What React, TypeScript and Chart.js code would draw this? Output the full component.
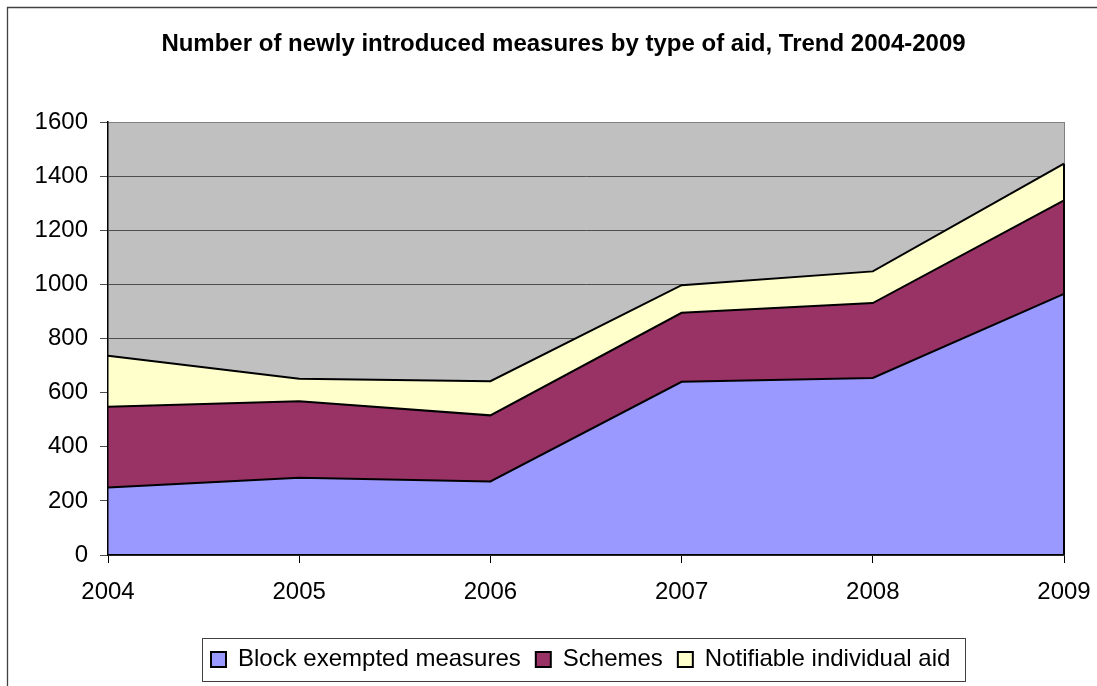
import React, { useEffect, useRef } from 'react';
import { Chart, registerables } from 'chart.js';

Chart.register(...registerables);

const TITLE = 'Number of newly introduced measures by type of aid, Trend 2004-2009';
const YEARS = ['2004', '2005', '2006', '2007', '2008', '2009'];
const BLOCK_EXEMPTED = [249, 285, 272, 640, 654, 965];
const SCHEMES = [299, 283, 244, 255, 277, 345];
const NOTIFIABLE = [188, 83, 126, 102, 117, 136];
const SERIES_LABELS = ['Block exempted measures', 'Schemes', 'Notifiable individual aid'];
const SERIES_COLORS = ['#9999FF', '#993366', '#FFFFCC'];
const Y_MIN = 0;
const Y_MAX = 1600;
const Y_STEP = 200;

const FONT = "'Liberation Sans', Arial, sans-serif";
const W = 1097;
const H = 686;

const decorPlugin = {
  id: 'decor',
  beforeDraw(chart: any) {
    const { ctx, chartArea: a } = chart;
    ctx.save();
    ctx.fillStyle = '#ffffff';
    ctx.fillRect(0, 0, chart.width, chart.height);
    ctx.strokeStyle = '#404040';
    ctx.lineWidth = 1.3;
    ctx.beginPath();
    ctx.moveTo(7.5, chart.height);
    ctx.lineTo(7.5, 7.5);
    ctx.lineTo(chart.width, 7.5);
    ctx.stroke();
    ctx.fillStyle = '#C0C0C0';
    ctx.fillRect(a.left, a.top, a.right - a.left, a.bottom - a.top);
    ctx.restore();
  },
  afterLayout(chart: any) {
    const t = chart.titleBlock;
    if (t) {
      const dx = 563.5 - (t.left + t.right) / 2;
      t.left += dx;
      t.right += dx;
    }
    const l = chart.legend;
    if (l) {
      l.left = 196;
    }
  },
  afterDatasetsDraw(chart: any) {
    const { ctx } = chart;
    const xs = chart.scales.x;
    const ys = chart.scales.y;
    const last = YEARS.length - 1;
    const total = BLOCK_EXEMPTED[last] + SCHEMES[last] + NOTIFIABLE[last];
    const x = xs.getPixelForValue(last);
    ctx.save();
    ctx.strokeStyle = '#000';
    ctx.lineWidth = 2;
    ctx.beginPath();
    ctx.moveTo(x, ys.getPixelForValue(0));
    ctx.lineTo(x, ys.getPixelForValue(total));
    ctx.stroke();
    ctx.restore();
  },
  afterDraw(chart: any) {
    const l = chart.legend;
    if (!l || !l.legendHitBoxes || !l.legendHitBoxes.length) return;
    const hb = l.legendHitBoxes;
    const first = hb[0];
    const lastHb = hb[hb.length - 1];
    const { ctx } = chart;
    ctx.save();
    ctx.strokeStyle = '#404040';
    ctx.lineWidth = 1;
    const x0 = Math.round(first.left - 9) + 0.5;
    const x1 = Math.round(lastHb.left + lastHb.width + 15) + 0.5;
    const y0 = Math.round(l.top + 5) + 0.5;
    const y1 = Math.round(l.bottom) - 0.5;
    ctx.strokeRect(x0, y0, x1 - x0, y1 - y0);
    ctx.restore();
  },
};

export default function App() {
  const ref = useRef<HTMLCanvasElement | null>(null);

  useEffect(() => {
    if (!ref.current) return;
    const seriesData = [BLOCK_EXEMPTED, SCHEMES, NOTIFIABLE];
    const chart = new Chart(ref.current, {
      type: 'line',
      data: {
        labels: YEARS,
        datasets: seriesData.map((d, i) => ({
          label: SERIES_LABELS[i],
          data: d,
          backgroundColor: SERIES_COLORS[i],
          borderColor: '#000000',
          borderWidth: 2,
          fill: i === 0 ? 'origin' : '-1',
          pointRadius: 0,
          pointHoverRadius: 0,
          tension: 0,
        })),
      },
      options: {
        responsive: false,
        animation: false,
        events: [],
        layout: { padding: { left: 0, right: 33, top: 0, bottom: 4.5 } },
        plugins: {
          title: {
            display: true,
            text: TITLE,
            color: '#000',
            font: { family: FONT, size: 24, weight: 'bold', lineHeight: 1.2 },
            padding: { top: 29.6, bottom: 63.6 },
          },
          legend: {
            display: true,
            position: 'bottom',
            align: 'start',
            labels: {
              color: '#000',
              font: { family: FONT, size: 24 },
              boxWidth: 15,
              boxHeight: 15,
              padding: 15,
            },
          },
          tooltip: { enabled: false },
        },
        scales: {
          x: {
            ticks: {
              color: '#000',
              font: { family: FONT, size: 24 },
              padding: 14.6,
              maxRotation: 0,
              autoSkip: false,
            },
            grid: {
              color: (c: any) => (c.index === YEARS.length - 1 ? '#808080' : 'rgba(0,0,0,0)'),
              tickColor: '#000',
              tickLength: 8,
            },
            border: { color: '#000', width: 1.5, z: 1 },
            afterFit: (s: any) => {
              s.height = 77.5;
              s.paddingLeft = 0;
              s.paddingRight = 0;
            },
          },
          y: {
            stacked: true,
            min: Y_MIN,
            max: Y_MAX,
            ticks: {
              stepSize: Y_STEP,
              color: '#000',
              font: { family: FONT, size: 24 },
              padding: 12,
              callback: (v: any) => String(v),
            },
            grid: {
              color: (c: any) => (c.tick && c.tick.value === Y_MAX ? '#808080' : '#4d4d4d'),
              tickColor: '#4d4d4d',
              tickLength: 8,
              lineWidth: 1,
            },
            border: { color: '#000', width: 1.5, z: 1 },
            afterFit: (s: any) => {
              s.width = 108;
            },
          },
        },
      },
      plugins: [decorPlugin],
    } as any);
    return () => chart.destroy();
  }, []);

  return (
    <div style={{ position: 'fixed', left: 0, top: 0, width: W, height: H, background: '#fff' }}>
      <canvas ref={ref} width={W} height={H} style={{ display: 'block' }} />
    </div>
  );
}
